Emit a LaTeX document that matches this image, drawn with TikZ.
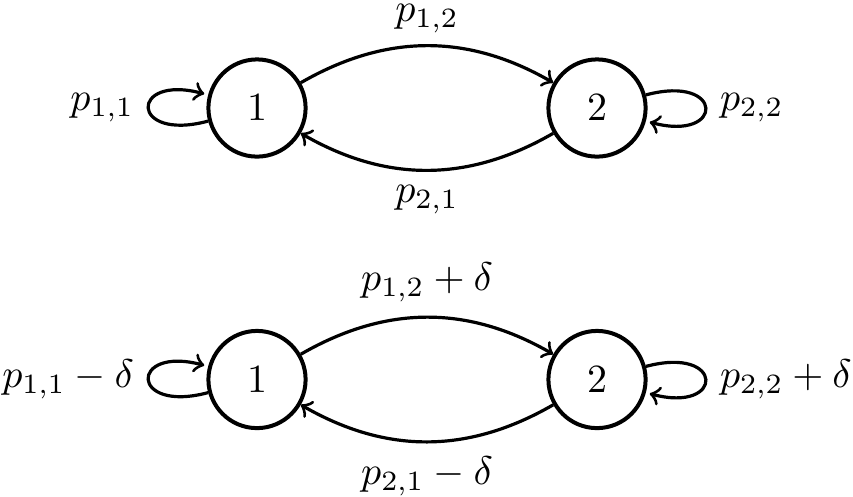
\documentclass[tikz,border=0pt]{standalone}
\usetikzlibrary{positioning}
\begin{document}
\begin{tikzpicture}[x=0.25pt,y=-0.25pt,
  state/.style={circle,draw,line width=1pt,minimum size=24.3pt,inner sep=0pt},
  trans/.style={->,thick}]
\useasboundingbox (0,-2) rectangle (853,494);
\node[state] (a1) at (257,106) {$1$};
\node[state] (a2) at (597,106) {$2$};
\node[state] (b1) at (257,377.5) {$1$};
\node[state] (b2) at (597,377.5) {$2$};
\draw[trans] (a1) edge[loop left] node[left] {$p_{1,1}$} (a1);
\draw[trans] (a2) edge[loop right] node[right] {$p_{2,2}$} (a2);
\draw[trans] (a1) edge[bend left=30] node[above,inner sep=2.8pt] {$p_{1,2}$} (a2);
\draw[trans] (a2) edge[bend left=30] node[below] {$p_{2,1}$} (a1);
\draw[trans] (b1) edge[loop left] node[left] {$p_{1,1}-\delta$} (b1);
\draw[trans] (b2) edge[loop right] node[right] {$p_{2,2}+\delta$} (b2);
\draw[trans] (b1) edge[bend left=30] node[above] {$p_{1,2}+\delta$} (b2);
\draw[trans] (b2) edge[bend left=30] node[below] {$p_{2,1}-\delta$} (b1);
\end{tikzpicture}
\end{document}
